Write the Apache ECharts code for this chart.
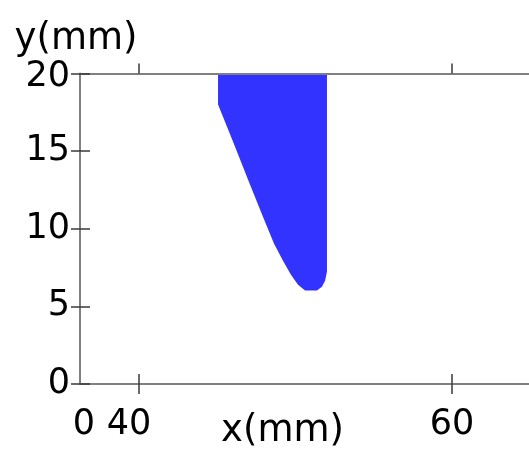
<!DOCTYPE html>
<html>
<head>
<meta charset="utf-8">
<script src="https://cdn.jsdelivr.net/npm/echarts@6/dist/echarts.min.js"></script>
<style>html,body{margin:0;padding:0;background:#fff}#c{width:529px;height:458px}</style>
</head>
<body>
<div id="c"></div>
<script>
const xMin = 36.23, xMax = 64.92;
const yMin = 0, yMax = 20, yStep = 5;
const xTickValues = [40, 60];
const xLabelValues = [36.23, 40, 60];
const xLabelTexts = ['0', '40', '60'];
const shapeX = [45.05, 45.05, 46.01, 46.97, 47.92, 48.63, 49.20, 49.71, 50.16, 50.61, 51.37, 51.69, 51.89, 52.01, 52.01];
const shapeY = [20, 18.0, 15.61, 13.16, 10.77, 9.03, 7.94, 7.03, 6.39, 6.03, 6.03, 6.26, 6.65, 7.23, 20];
const xTitle = 'x(mm)', yTitle = 'y(mm)';

const FONT = 'DejaVu Sans';
const axisGray = '#808080', tickCol = '#3a3a3a';
const chart = echarts.init(document.getElementById('c'));
const data = shapeX.map((x, i) => [x, shapeY[i]]);
function xAxisBase(extra) {
  return Object.assign({
    type: 'value', min: xMin, max: xMax, z: 5,
    splitLine: {show: false},
    axisLine: {show: false},
    axisLabel: {show: false},
    axisTick: {show: true, customValues: xTickValues, length: 10, lineStyle: {color: tickCol, width: 1.5}}
  }, extra);
}
function yAxisBase(extra) {
  return Object.assign({
    type: 'value', min: yMin, max: yMax, interval: yStep, z: 5,
    splitLine: {show: false},
    axisLine: {show: false},
    axisLabel: {show: false},
    axisTick: {show: true, length: 10, lineStyle: {color: tickCol, width: 1.5}}
  }, extra);
}
chart.setOption({
  animation: false,
  grid: {left: 80, right: 0, top: 73.5, bottom: 74, containLabel: false, outerBoundsMode: 'none'},
  xAxis: [
    xAxisBase({
      position: 'bottom',
      axisLine: {show: true, onZero: false, lineStyle: {color: axisGray, width: 2}},
      axisTick: {show: true, customValues: xTickValues, inside: false, length: 10, lineStyle: {color: tickCol, width: 1.5}},
      axisLabel: {
        show: true, customValues: xLabelValues, margin: 23,
        color: '#000', fontFamily: FONT, fontSize: 35,
        formatter: function (v) {
          const i = xLabelValues.findIndex(t => Math.abs(t - v) < 1e-6);
          const t = i >= 0 ? xLabelTexts[i] : String(v);
          if (t === '40') return '{s|' + t + '}';
          if (t === '0') return '{z|' + t + '}';
          return t;
        },
        rich: {
          s: {fontFamily: FONT, fontSize: 35, color: '#000', padding: [0, 20, 0, 0]},
          z: {fontFamily: FONT, fontSize: 35, color: '#000', padding: [0, 0, 0, 8]}
        }
      },
      name: xTitle, nameLocation: 'middle', nameGap: 29, nameMoveOverlap: false,
      nameTextStyle: {color: '#000', fontFamily: FONT, fontSize: 37, verticalAlign: 'top', padding: [0, 44, 0, 0]}
    }),
    xAxisBase({position: 'bottom', axisTick: {show: true, customValues: xTickValues, inside: true, length: 10, lineStyle: {color: tickCol, width: 1.5}}}),
    xAxisBase({
      position: 'top',
      axisLine: {show: true, onZero: false, lineStyle: {color: axisGray, width: 2}},
      axisTick: {show: true, customValues: xTickValues, inside: false, length: 10, lineStyle: {color: tickCol, width: 1.5}}
    }),
    xAxisBase({position: 'top', axisTick: {show: true, customValues: xTickValues, inside: true, length: 10, lineStyle: {color: tickCol, width: 1.5}}})
  ],
  yAxis: [
    yAxisBase({
      position: 'left',
      axisLine: {show: true, onZero: false, lineStyle: {color: axisGray, width: 2}},
      axisTick: {show: true, inside: false, length: 9, lineStyle: {color: tickCol, width: 1.5}},
      axisLabel: {
        show: true, margin: 10, color: '#000', fontFamily: FONT, fontSize: 35,
        formatter: function (v) { return v === yMax ? '{t|' + v + '}' : String(v); },
        rich: {t: {fontFamily: FONT, fontSize: 35, color: '#000', padding: [6, 0, 0, 0]}}
      },
      name: yTitle, nameLocation: 'end', nameGap: 16, nameMoveOverlap: false,
      nameTextStyle: {color: '#000', fontFamily: FONT, fontSize: 37, align: 'center', padding: [0, 8, 0, 0]}
    }),
    yAxisBase({position: 'left', axisTick: {show: true, inside: true, length: 10, lineStyle: {color: tickCol, width: 1.5}}})
  ],
  series: [{
    type: 'line', xAxisIndex: 0, yAxisIndex: 0, z: 1,
    data: data, symbol: 'none', showSymbol: false,
    lineStyle: {width: 0, color: '#3333ff'},
    areaStyle: {color: '#3333ff', opacity: 1, origin: 'end'}
  }]
});
</script>
</body>
</html>
